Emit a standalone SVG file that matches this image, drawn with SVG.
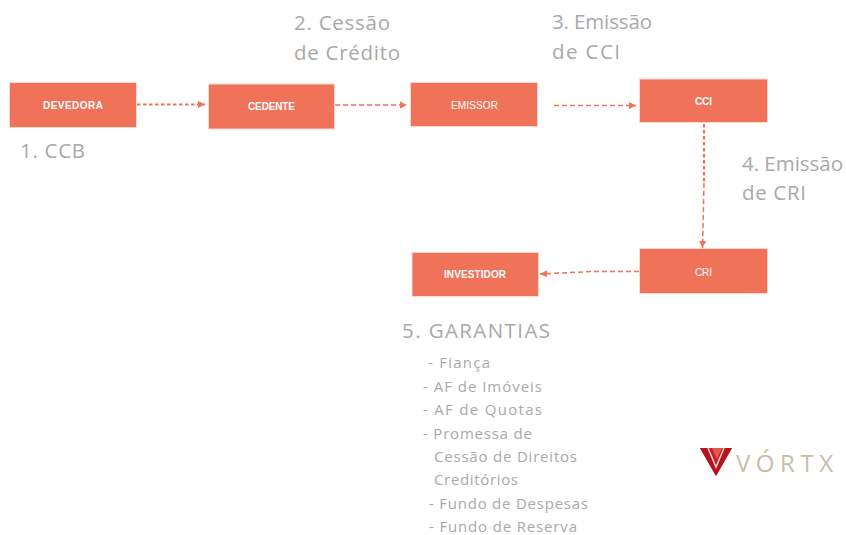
<svg xmlns="http://www.w3.org/2000/svg" width="846" height="535" viewBox="0 0 846 535">
<style>
.n{fill:#ef7259;stroke:#fbd9d0;stroke-width:1}
.t{font-family:"Liberation Sans",Arial,sans-serif;font-size:10px;font-weight:700;fill:#fff}
.h{font-family:"Open Sans","Liberation Sans",sans-serif;font-size:20.500px;fill:#a9a9a9}
.s{font-family:"Open Sans","Liberation Sans",sans-serif;font-size:15px;fill:#a9a9a9}
.c{fill:none;stroke:#ef7259;stroke-width:1.500;stroke-dasharray:5 3}
.b{stroke-width:2.200;stroke-dasharray:3.500 2.500}
</style>
<defs><marker id="a" markerUnits="userSpaceOnUse" markerWidth="8" markerHeight="8" refX="7" refY="4" orient="auto"><path d="M0 .5L7 4L0 7.500Z" fill="#ef7259"/></marker></defs>
<rect width="846" height="535" fill="#fff"/>
<g id="connectors">
<path class="c b" marker-end="url(#a)" d="M137 104.500H205"/>
<path class="c" marker-end="url(#a)" d="M335 105H407"/>
<path class="c" marker-end="url(#a)" d="M554 105.500H636"/>
<path class="c b" d="M704 124V183"/>
<path class="c" marker-end="url(#a)" d="M704 183L702.500 248"/>
<path class="c" marker-end="url(#a)" d="M639 271.500H592L540 274"/>
</g>
<g id="devedora"><rect class="n" x="9.500" y="82.500" width="127" height="45"/><text class="t" x="43" y="109" textLength="60">DEVEDORA</text></g>
<g id="cedente"><rect class="n" x="208.500" y="84" width="126" height="45"/><text class="t" x="248" y="110" textLength="47">CEDENTE</text></g>
<g id="emissor"><rect class="n" x="410.500" y="82.500" width="127" height="44"/><text class="t" x="451" y="108.500" textLength="47" style="font-weight:400">EMISSOR</text></g>
<g id="cci"><rect class="n" x="639.500" y="79" width="128" height="43.500"/><text class="t" x="695" y="105" textLength="17">CCI</text></g>
<g id="cri"><rect class="n" x="639.500" y="248.500" width="128" height="45"/><text class="t" x="695" y="276" textLength="17" style="font-weight:400">CRI</text></g>
<g id="investidor"><rect class="n" x="412" y="252.500" width="126.500" height="44"/><text class="t" x="444" y="278" textLength="62">INVESTIDOR</text></g>
<g id="labels">
<text class="h" x="20" y="158" textLength="65">1. CCB</text>
<text class="h" x="294" y="30" textLength="96">2. Cessão</text>
<text class="h" x="294" y="60" textLength="106">de Crédito</text>
<text class="h" x="552" y="29" textLength="100">3. Emissão</text>
<text class="h" x="552" y="59" textLength="68">de CCI</text>
<text class="h" x="742" y="171" textLength="101">4. Emissão</text>
<text class="h" x="742" y="200" textLength="64">de CRI</text>
<text class="h" x="402" y="338" textLength="148">5. GARANTIAS</text>
<text class="s" x="428" y="368" textLength="62">- Fiança</text>
<text class="s" x="423" y="392" textLength="119">- AF de Imóveis</text>
<text class="s" x="423" y="415" textLength="119">- AF de Quotas</text>
<text class="s" x="423" y="439" textLength="109">- Promessa de</text>
<text class="s" x="434" y="462" textLength="143">Cessão de Direitos</text>
<text class="s" x="434" y="485" textLength="84">Creditórios</text>
<text class="s" x="429" y="509" textLength="159">- Fundo de Despesas</text>
<text class="s" x="429" y="532" textLength="148">- Fundo de Reserva</text>
</g>
<g id="vortx">
<path d="M700 448H732L716 476Z" fill="#c8202f"/>
<path d="M700 448H709L716 463L723 448H732L716 476Z" fill="#b5141f"/>
<path d="M708 448L716 467L724 448" fill="none" stroke="#f6d5cf" stroke-width="1.500"/>
<path d="M712 448H722L717 459Z" fill="#e2574f"/>
<text x="736" y="472" textLength="97" style="font-family:'Open Sans','Liberation Sans',sans-serif;font-size:24px;fill:#c9bda8">VÓRTX</text>
</g>
</svg>
